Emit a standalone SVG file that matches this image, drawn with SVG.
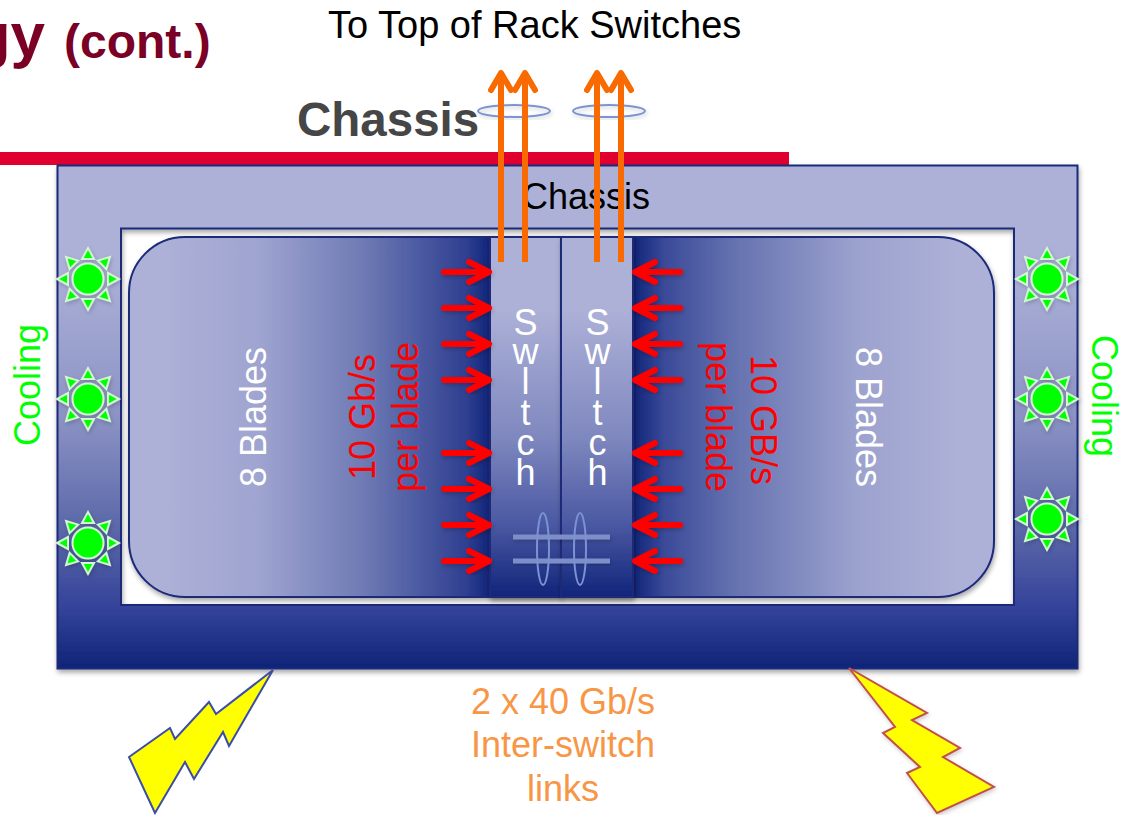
<svg xmlns="http://www.w3.org/2000/svg" width="1125" height="815" viewBox="0 0 1125 815">
<style>
text{font-family:"Liberation Sans",Arial,sans-serif}
.big{font-size:36px}
.mid{text-anchor:middle}
.w{fill:#fff}
.r{fill:#f00}
.g{fill:#0f0}
.o{fill:#F79646}
.sw{font-size:36px;fill:#fff;text-anchor:middle}
.ln{fill:none;stroke-width:6;stroke-linecap:round;stroke-linejoin:round}
.red{stroke:#f00}
.org{stroke:#F96B00}
.ring{fill:none;stroke:#7C93D3;stroke-width:2}
.bar{stroke:#7C8FC8;stroke-width:5;fill:none}
.edge{stroke:#1B2A78;stroke-width:2}
</style>
<defs>
<linearGradient id="fg" gradientUnits="userSpaceOnUse" x1="0" y1="165" x2="0" y2="668">
<stop offset="0.2" stop-color="#ADB1D8"/><stop offset="0.5" stop-color="#8C93C4"/><stop offset="0.75" stop-color="#5562A6"/><stop offset="0.88" stop-color="#34439A"/><stop offset="1" stop-color="#0F2478"/>
</linearGradient>
<linearGradient id="bg" gradientUnits="userSpaceOnUse" x1="129" y1="0" x2="994" y2="0">
<stop offset="0.04" stop-color="#ADB1D8"/><stop offset="0.15" stop-color="#9FA4D0"/><stop offset="0.27" stop-color="#6F7BB5"/><stop offset="0.33" stop-color="#4F5DA3"/><stop offset="0.39" stop-color="#2F3F90"/><stop offset="0.418" stop-color="#10247A"/><stop offset="0.583" stop-color="#10247A"/><stop offset="0.62" stop-color="#3B4B99"/><stop offset="0.7" stop-color="#6572B0"/><stop offset="0.84" stop-color="#9CA2CE"/><stop offset="0.96" stop-color="#ADB1D8"/>
</linearGradient>
<linearGradient id="sg" gradientUnits="userSpaceOnUse" x1="0" y1="237" x2="0" y2="597">
<stop offset="0.2" stop-color="#ADB1D8"/><stop offset="0.55" stop-color="#8089BF"/><stop offset="0.8" stop-color="#4A58A2"/><stop offset="1" stop-color="#10247A"/>
</linearGradient>
<filter id="sh" x="-10%" y="-10%" width="120%" height="120%"><feDropShadow dx="1" dy="3" stdDeviation="2.5" flood-color="#000" flood-opacity="0.35"/></filter>
<filter id="sl" x="-20%" y="-20%" width="140%" height="140%"><feDropShadow dx="1" dy="2" stdDeviation="2" flood-color="#000" flood-opacity="0.2"/></filter>
<g id="sun" filter="url(#sl)" fill="#0f0" stroke="#D2F7D2" stroke-width="2">
<circle r="15.500"/>
<path d="M-6 -20 L6 -20 L0 -31 Z"/>
<path d="M-6 -20 L6 -20 L0 -31 Z" transform="rotate(45)"/>
<path d="M-6 -20 L6 -20 L0 -31 Z" transform="rotate(90)"/>
<path d="M-6 -20 L6 -20 L0 -31 Z" transform="rotate(135)"/>
<path d="M-6 -20 L6 -20 L0 -31 Z" transform="rotate(180)"/>
<path d="M-6 -20 L6 -20 L0 -31 Z" transform="rotate(225)"/>
<path d="M-6 -20 L6 -20 L0 -31 Z" transform="rotate(270)"/>
<path d="M-6 -20 L6 -20 L0 -31 Z" transform="rotate(315)"/>
</g>
<g id="ra" class="ln red" filter="url(#sl)"><path d="M0 0H45M25 -10L45 0L25 10"/></g>
<g id="rb" class="ln red" filter="url(#sl)"><path d="M0 0H-45M-25 -10L-45 0L-25 10"/></g>
<g id="up" class="ln org"><path d="M0 193V3" stroke-linecap="butt"/><path d="M-10 21L0 4L10 21"/></g>
</defs>
<rect width="1125" height="815" fill="#fff"/>
<g id="title">
<text x="45" y="56" font-size="62" font-weight="bold" fill="#7A0026" text-anchor="end">gy</text>
<text x="64" y="58" font-size="48" font-weight="bold" fill="#7A0026">(cont.)</text>
</g>
<g id="heading">
<text x="297" y="136" font-size="47.500" font-weight="bold" fill="#464646">Chassis</text>
<rect x="0" y="152" width="789" height="13" fill="#DF0030"/>
</g>
<g id="chassis">
<path d="M57.500 165.500H1077.500V668.500H57.500ZM121 228.500V605H1014V228.500Z" fill-rule="evenodd" fill="url(#fg)" class="edge" filter="url(#sh)"/>
<text x="586" y="209" class="big mid">Chassis</text>
</g>
<g id="blades">
<rect x="129" y="237" width="865" height="360" rx="56" fill="url(#bg)" class="edge" filter="url(#sh)"/>
<text transform="translate(266,417) rotate(-90)" class="big mid w">8 Blades</text>
<text transform="translate(375,417) rotate(-90)" class="big mid r">10 Gb/s</text>
<text transform="translate(418,417) rotate(-90)" class="big mid r">per blade</text>
<text transform="translate(751,420) rotate(90)" class="big mid r">10 GB/s</text>
<text transform="translate(706,417) rotate(90)" class="big mid r">per blade</text>
<text transform="translate(856,417) rotate(90)" class="big mid w">8 Blades</text>
</g>
<g id="switch-left">
<rect x="490" y="237" width="71" height="360" fill="url(#sg)" class="edge" filter="url(#sh)"/>
<text class="sw"><tspan x="525.500" y="335">S</tspan><tspan x="525.500" y="364">w</tspan><tspan x="525.500" y="394">l</tspan><tspan x="525.500" y="425">t</tspan><tspan x="525.500" y="455">c</tspan><tspan x="525.500" y="485">h</tspan></text>
</g>
<g id="switch-right">
<rect x="561" y="237" width="72" height="360" fill="url(#sg)" class="edge" filter="url(#sh)"/>
<text class="sw"><tspan x="597.500" y="335">S</tspan><tspan x="597.500" y="364">w</tspan><tspan x="597.500" y="394">l</tspan><tspan x="597.500" y="425">t</tspan><tspan x="597.500" y="455">c</tspan><tspan x="597.500" y="485">h</tspan></text>
</g>
<g id="sun-l1"><use href="#sun" x="88" y="279"/></g>
<g id="sun-l2"><use href="#sun" x="88" y="399"/></g>
<g id="sun-l3"><use href="#sun" x="88" y="543"/></g>
<g id="sun-r1"><use href="#sun" x="1047" y="279"/></g>
<g id="sun-r2"><use href="#sun" x="1047" y="399"/></g>
<g id="sun-r3"><use href="#sun" x="1047" y="519"/></g>
<g id="connectors">
<use href="#ra" x="444" y="272"/><use href="#ra" x="444" y="308"/><use href="#ra" x="444" y="344"/><use href="#ra" x="444" y="380"/>
<use href="#ra" x="444" y="453"/><use href="#ra" x="444" y="489"/><use href="#ra" x="444" y="525"/><use href="#ra" x="444" y="561"/>
<use href="#rb" x="680" y="272"/><use href="#rb" x="680" y="308"/><use href="#rb" x="680" y="344"/><use href="#rb" x="680" y="380"/>
<use href="#rb" x="680" y="453"/><use href="#rb" x="680" y="489"/><use href="#rb" x="680" y="525"/><use href="#rb" x="680" y="561"/>
<ellipse cx="514" cy="111" rx="36" ry="6" class="ring" filter="url(#sl)"/>
<ellipse cx="609" cy="111" rx="36" ry="6" class="ring" filter="url(#sl)"/>
<use href="#up" x="501" y="69"/><use href="#up" x="525" y="69"/><use href="#up" x="597" y="69"/><use href="#up" x="621" y="69"/>
<path d="M513 537H610M513 561H610" class="bar" filter="url(#sl)"/>
<ellipse cx="543" cy="549" rx="6" ry="36" class="ring"/>
<ellipse cx="580" cy="549" rx="6" ry="36" class="ring"/>
</g>
<g id="top-label"><text x="328" y="38" font-size="38">To Top of Rack Switches</text></g>
<g id="cooling-left"><text transform="translate(40,385) rotate(-90)" class="big mid g">Cooling</text></g>
<g id="cooling-right"><text transform="translate(1092,396) rotate(90)" class="big mid g">Cooling</text></g>
<g id="link-label">
<text x="563" y="714" class="big mid o">2 x 40 Gb/s</text>
<text x="563" y="757" class="big mid o">Inter-switch</text>
<text x="563" y="801" class="big mid o">links</text>
</g>
<g id="bolt-left"><path d="M273 670L216 714L209 702L175 739L170 728L129 757L155 813L185 762L194 779L223 732L229 746Z" fill="#ff0" stroke="#3A4DA8" stroke-width="2"/></g>
<g id="bolt-right"><path d="M849 668L927 713L912 720L960 748L943 757L994 787L937 813L907 773L920 767L883 733L895 727Z" fill="#ff0" stroke="#C0504D" stroke-width="2" filter="url(#sl)"/></g>
</svg>
